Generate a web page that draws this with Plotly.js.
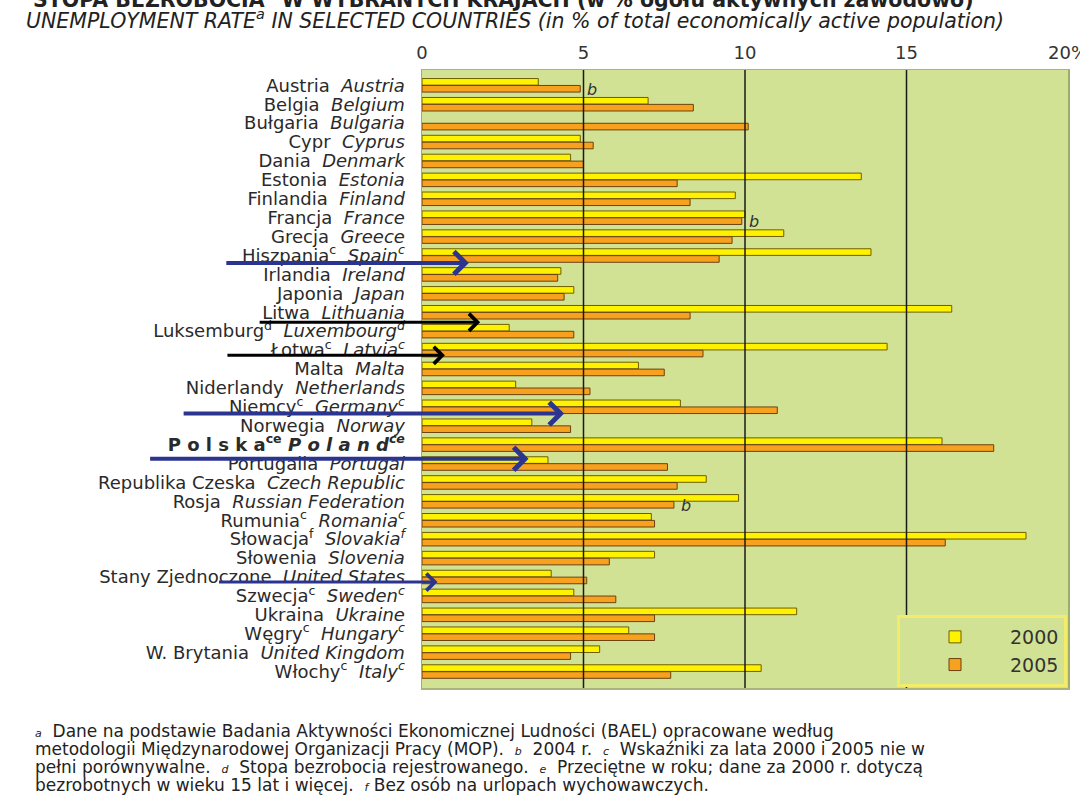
<!DOCTYPE html>
<html>
<head>
<meta charset="utf-8">
<script src="https://cdn.plot.ly/plotly-3.0.1.min.js"></script>
<style>
  html, body { margin: 0; padding: 0; background: #ffffff; }
  #chart { width: 1080px; height: 810px; }
</style>
</head>
<body>
<div id="chart"></div>
<script>
// ---- data ----
const namesPL = ['Austria','Belgia','Bułgaria','Cypr','Dania','Estonia','Finlandia','Francja','Grecja','Hiszpania',
  'Irlandia','Japonia','Litwa','Luksemburg','Łotwa','Malta','Niderlandy','Niemcy','Norwegia','Polska',
  'Portugalia','Republika Czeska','Rosja','Rumunia','Słowacja','Słowenia','Stany Zjednoczone','Szwecja',
  'Ukraina','Węgry','W. Brytania','Włochy'];
const namesEN = ['Austria','Belgium','Bulgaria','Cyprus','Denmark','Estonia','Finland','France','Greece','Spain',
  'Ireland','Japan','Lithuania','Luxembourg','Latvia','Malta','Netherlands','Germany','Norway','Poland',
  'Portugal','Czech Republic','Russian Federation','Romania','Slovakia','Slovenia','United States','Sweden',
  'Ukraine','Hungary','United Kingdom','Italy'];
const labelNotes = ['','','','','','','','','','c',
  '','','','d','c','','','c','','ce',
  '','','','c','f','','','c',
  '','c','','c'];
const rate2000 = [3.6, 7.0, null, 4.9, 4.6, 13.6, 9.7, 10.0, 11.2, 13.9,
  4.3, 4.7, 16.4, 2.7, 14.4, 6.7, 2.9, 8.0, 3.4, 16.1,
  3.9, 8.8, 9.8, 7.1, 18.7, 7.2, 4.0, 4.7,
  11.6, 6.4, 5.5, 10.5];
const rate2005 = [4.9, 8.4, 10.1, 5.3, 5.0, 7.9, 8.3, 9.9, 9.6, 9.2,
  4.2, 4.4, 8.3, 4.7, 8.7, 7.5, 5.2, 11.0, 4.6, 17.7,
  7.6, 7.9, 7.8, 7.2, 16.2, 5.8, 5.1, 6.0,
  7.2, 7.2, 4.6, 7.7];
const barNotes2005 = ['b','','','','','','','b','','',
  '','','','','','','','','','',
  '','','b','','','','','',
  '','','',''];
const seriesNames = ['2000','2005'];
const tickVals = [0, 5, 10, 15, 20];
const tickLabels = ['0', '5', '10', '15', '20%'];

// ---- build labels ----
const FONT = 'DejaVu Sans, Liberation Sans, Arial, sans-serif';
function spaced(s){ return s.split('').join(' '); }
const tickText = namesPL.map((pl, i) => {
  const n = labelNotes[i];
  const sup = n ? '<sup>' + n + '</sup>' : '';
  if (namesEN[i] === 'Poland') {
    return '<b>' + spaced(pl) + sup + ' <i>' + spaced(namesEN[i]) + sup + '</i></b>';
  }
  return pl + sup + '  <i>' + namesEN[i] + sup + '</i>';
});

const traces = [
  {
    type: 'bar', orientation: 'h', name: seriesNames[0],
    y: namesEN, x: rate2000,
    marker: { color: '#FFF200', line: { color: '#6E5E00', width: 1 } },
    hoverinfo: 'x+y'
  },
  {
    type: 'bar', orientation: 'h', name: seriesNames[1],
    y: namesEN, x: rate2005,
    marker: { color: '#F7A11E', line: { color: '#6B4210', width: 1 } },
    hoverinfo: 'x+y'
  }
];

// gridlines drawn above bars, at the inner tick values
const gridShapes = tickVals.filter(v => v > 0 && v < 20).map(v => ({
  type: 'line', xref: 'x', yref: 'paper', x0: v, x1: v, y0: 0, y1: 1,
  line: { color: '#1a1a1a', width: 1.5 }, layer: 'above'
}));

// footnote letters next to 2005 bars
const noteAnnots = [];
barNotes2005.forEach((n, i) => {
  if (n) noteAnnots.push({
    xref: 'x', yref: 'y', x: rate2005[i], y: i + 0.2,
    text: '<i>' + n + '</i>', showarrow: false, xanchor: 'left', yanchor: 'middle',
    xshift: 5, font: { family: FONT, size: 16, color: '#333' }
  });
});

// hand-drawn arrows over the picture (decoration)
const arrows = [
  { x: 1.45, y: 9.39, ax: -244, color: '#2B3590', w: 4 },
  { x: 1.80, y: 12.53, ax: -222, color: '#000000', w: 3 },
  { x: 0.71, y: 14.28, ax: -219, color: '#000000', w: 3 },
  { x: 4.40, y: 17.36, ax: -382, color: '#2B3590', w: 4 },
  { x: 3.30, y: 19.75, ax: -380, color: '#2B3590', w: 4 },
  { x: -0.06, y: 24.58, ax: -220, color: '#000000', w: 3 },
  { x: 0.48, y: 26.27, ax: -220, color: '#2B3590', w: 3 }
];
const arrowAnnots = arrows.map(a => ({
  xref: 'x', yref: 'y', x: a.x, y: a.y, ax: a.ax, ay: 0,
  text: '', showarrow: true, arrowhead: 4, arrowsize: 1.1, arrowwidth: a.w,
  arrowcolor: a.color, standoff: 0, startstandoff: 0
}));

const sm = s => '<span style="font-size:11px"><i>' + s + '</i></span>';
const footFont = { family: FONT, size: 17, color: '#222' };
const foot = [
  { y: 731, t: sm('a') + '  Dane na podstawie Badania Aktywności Ekonomicznej Ludności (BAEL) opracowane według' },
  { y: 749, t: 'metodologii Międzynarodowej Organizacji Pracy (MOP).  ' + sm('b') + '  2004 r.  ' + sm('c') + '  Wskaźniki za lata 2000 i 2005 nie w' },
  { y: 767, t: 'pełni porównywalne.  ' + sm('d') + '  Stopa bezrobocia rejestrowanego.  ' + sm('e') + '  Przeciętne w roku; dane za 2000 r. dotyczą' },
  { y: 785, t: 'bezrobotnych w wieku 15 lat i więcej.  ' + sm('f') + ' Bez osób na urlopach wychowawczych.' }
];
const plotTop = 70, plotBottom = 688, plotLeft = 422, plotW = 646, plotH = plotBottom - plotTop;
const footAnnots = foot.map(f => ({
  xref: 'paper', yref: 'paper', x: (33 - plotLeft) / plotW, y: (plotBottom - f.y) / plotH,
  xanchor: 'left', yanchor: 'middle', align: 'left', showarrow: false, text: f.t, font: footFont
}));

const subtitle = {
  xref: 'paper', yref: 'paper', x: (24 - plotLeft) / plotW, y: (plotBottom - 19) / plotH,
  xanchor: 'left', yanchor: 'middle', showarrow: false,
  text: '<i>UNEMPLOYMENT RATE<sup>a</sup> IN SELECTED COUNTRIES (in % of total economically active population)</i>',
  font: { family: FONT, size: 20.5, color: '#222' }
};

const layout = {
  width: 1080, height: 810,
  margin: { l: plotLeft, r: 1080 - plotLeft - plotW, t: plotTop, b: 810 - plotBottom, pad: 0 },
  paper_bgcolor: '#ffffff',
  plot_bgcolor: '#D2E294',
  barmode: 'group', bargap: 0.27, bargroupgap: 0.04,
  showlegend: true,
  legend: {
    x: (897 - plotLeft) / plotW, y: (plotBottom - 615) / plotH, xanchor: 'left', yanchor: 'top',
    bgcolor: '#D2E294', bordercolor: '#F2EC6A', borderwidth: 3,
    font: { family: FONT, size: 19, color: '#333' },
    itemwidth: 100, tracegroupgap: 4
  },
  title: {
    text: '<b>STOPA BEZROBOCIA<sup>a</sup> W WYBRANYCH KRAJACH (w % ogółu aktywnych zawodowo)</b>',
    x: 33 / 1080, xanchor: 'left', xref: 'container',
    y: 1, yanchor: 'middle', yref: 'container',
    font: { family: FONT, size: 20.5, color: '#222' }
  },
  xaxis: {
    side: 'top', range: [0, 20], fixedrange: true,
    tickvals: tickVals, ticktext: tickLabels,
    showgrid: false, zeroline: false,
    showline: true, mirror: true, linecolor: '#A7B57A', linewidth: 1.5,
    ticks: '', ticklabelstandoff: 2, ticklabeloverflow: 'allow',
    tickfont: { family: FONT, size: 18, color: '#333' }
  },
  yaxis: {
    type: 'category', range: [31.87, -0.81], fixedrange: true,
    tickvals: namesEN, ticktext: tickText,
    showgrid: false, zeroline: false,
    showline: true, mirror: true, linecolor: '#9DAE6C', linewidth: 1.5,
    ticks: '', ticklabelstandoff: 12,
    tickfont: { family: FONT, size: 18, color: '#2a2a2a' }
  },
  shapes: gridShapes,
  annotations: [subtitle].concat(noteAnnots, arrowAnnots, footAnnots)
};

Plotly.newPlot('chart', traces, layout, { displayModeBar: false, staticPlot: true });
</script>
</body>
</html>
